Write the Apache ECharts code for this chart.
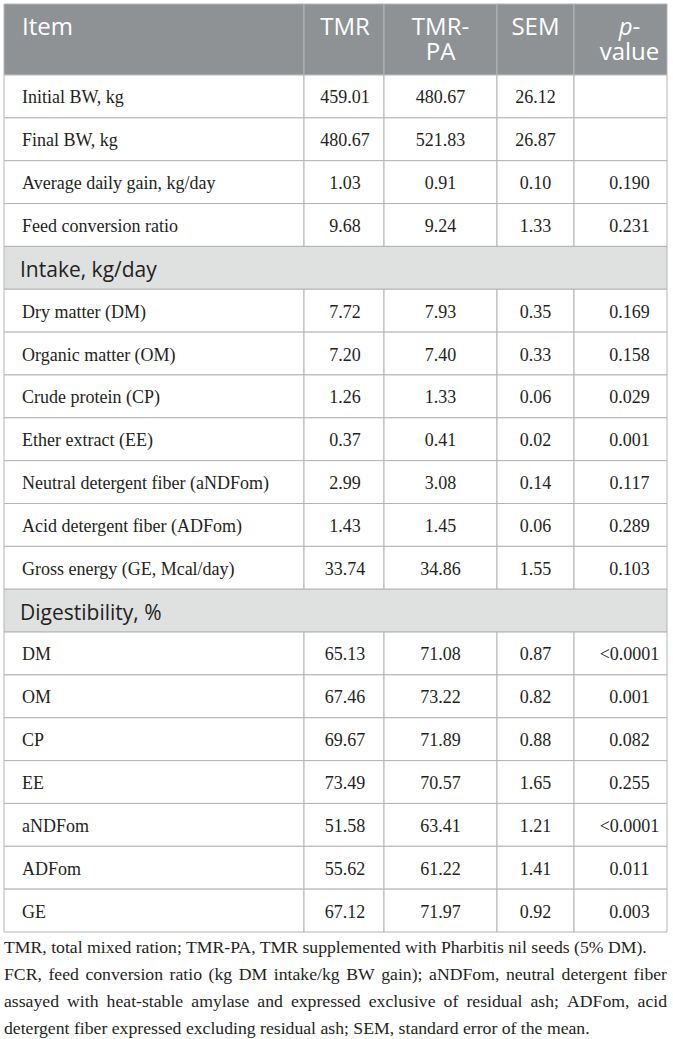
<!DOCTYPE html>
<html>
<head>
<meta charset="utf-8">
<script src="https://cdn.jsdelivr.net/npm/echarts@6/dist/echarts.min.js"></script>
<style>
  html, body { margin: 0; padding: 0; background: #fff; }
  #main { width: 673px; height: 1039px; }
</style>
</head>
<body>
<div id="main"></div>
<script>
var headers = ['Item', 'TMR', 'TMR-\nPA', 'SEM', '{i|p}-\nvalue'];
var sections = ['Intake, kg/day', 'Digestibility, %'];
var items = [
  'Initial BW, kg', 'Final BW, kg', 'Average daily gain, kg/day', 'Feed conversion ratio',
  'Intake, kg/day',
  'Dry matter (DM)', 'Organic matter (OM)', 'Crude protein (CP)', 'Ether extract (EE)',
  'Neutral detergent fiber (aNDFom)', 'Acid detergent fiber (ADFom)', 'Gross energy (GE, Mcal/day)',
  'Digestibility, %',
  'DM', 'OM', 'CP', 'EE', 'aNDFom', 'ADFom', 'GE'
];
var tmr = [459.01, 480.67, 1.03, 9.68, null, 7.72, 7.20, 1.26, 0.37, 2.99, 1.43, 33.74, null, 65.13, 67.46, 69.67, 73.49, 51.58, 55.62, 67.12];
var tmrPa = [480.67, 521.83, 0.91, 9.24, null, 7.93, 7.40, 1.33, 0.41, 3.08, 1.45, 34.86, null, 71.08, 73.22, 71.89, 70.57, 63.41, 61.22, 71.97];
var sem = [26.12, 26.87, 0.10, 1.33, null, 0.35, 0.33, 0.06, 0.02, 0.14, 0.06, 1.55, null, 0.87, 0.82, 0.88, 1.65, 1.21, 1.41, 0.92];
var pValue = ['', '', '0.190', '0.231', null, '0.169', '0.158', '0.029', '0.001', '0.117', '0.289', '0.103', null, '<0.0001', '0.001', '0.082', '0.255', '<0.0001', '0.011', '0.003'];
var footnotes = [
  'TMR, total mixed ration; TMR-PA, TMR supplemented with Pharbitis nil seeds (5% DM).',
  'FCR, feed conversion ratio (kg DM intake/kg BW gain); aNDFom, neutral detergent fiber',
  'assayed with heat-stable amylase and expressed exclusive of residual ash; ADFom, acid',
  'detergent fiber expressed excluding residual ash; SEM, standard error of the mean.'
];

// layout
var tableLeft = 4, tableWidth = 663;
var colEdges = [0, 300, 380, 493, 570, 663];
var colShift = [18, 1, 0, 0, 9];   // text offset inside each column
var headFill = '#8e9294', headLine = '#b3b6b7', rule = '#b4b4b4', sectionFill = '#dfe0e0', ink = '#231f20';
var serif = '"Liberation Serif", "DejaVu Serif", serif';
var sans = '"Open Sans", "Noto Sans", sans-serif';

var chart = echarts.init(document.getElementById('main'), null, { renderer: 'svg' });

function cellText(col, i) {
  var v = [null, tmr, tmrPa, sem, pValue][col][i];
  if (v === null || v === undefined) return '';
  return typeof v === 'number' ? v.toFixed(2) : v;
}

function textX(k, x0, x1) {
  return k === 0 ? x0 + colShift[0] : (x0 + x1) / 2 + colShift[k];
}

function renderHeader(params, api) {
  var h = api.size([0, 1])[1];
  var top = api.coord([0, 0])[1] - h / 2;
  var children = [];
  for (var k = 0; k < headers.length; k++) {
    var x0 = api.coord([colEdges[k], 0])[0];
    var x1 = api.coord([colEdges[k + 1], 0])[0];
    children.push({
      type: 'rect',
      shape: { x: x0, y: top, width: x1 - x0, height: h },
      style: { fill: headFill, stroke: headLine, lineWidth: 1 }
    });
    children.push({
      type: 'text',
      style: {
        text: headers[k],
        x: textX(k, x0, x1),
        y: top + 9,
        align: k === 0 ? 'left' : 'center',
        verticalAlign: 'top',
        fontFamily: sans,
        fontSize: 24,
        lineHeight: 25,
        fill: '#ffffff',
        rich: {
          i: { fontStyle: 'italic', fontFamily: sans, fontSize: 24, lineHeight: 25, fill: '#ffffff' }
        }
      }
    });
  }
  return { type: 'group', children: children };
}

function renderBody(params, api) {
  var i = api.value(1);
  var h = api.size([0, 1])[1];
  var cy = api.coord([0, i])[1];
  var top = cy - h / 2;
  var children = [];
  if (sections.indexOf(items[i]) >= 0) {
    var l = api.coord([colEdges[0], i])[0];
    var r = api.coord([colEdges[colEdges.length - 1], i])[0];
    children.push({
      type: 'rect',
      shape: { x: l, y: top, width: r - l, height: h },
      style: { fill: sectionFill, stroke: rule, lineWidth: 1 }
    });
    children.push({
      type: 'text',
      style: {
        text: items[i], x: l + 16, y: cy + 1, align: 'left', verticalAlign: 'middle',
        fontFamily: sans, fontSize: 21, fill: ink
      }
    });
    return { type: 'group', children: children };
  }
  for (var k = 0; k < colEdges.length - 1; k++) {
    var x0 = api.coord([colEdges[k], i])[0];
    var x1 = api.coord([colEdges[k + 1], i])[0];
    children.push({
      type: 'rect',
      shape: { x: x0, y: top, width: x1 - x0, height: h },
      style: { fill: '#ffffff', stroke: rule, lineWidth: 1 }
    });
    children.push({
      type: 'text',
      style: {
        text: k === 0 ? items[i] : cellText(k, i),
        x: textX(k, x0, x1),
        y: cy + 1,
        align: k === 0 ? 'left' : 'center',
        verticalAlign: 'middle',
        fontFamily: serif,
        fontSize: 18,
        fill: ink
      }
    });
  }
  return { type: 'group', children: children };
}

// footnote, justified like the source
var measure = document.createElement('canvas').getContext('2d');
var noteFont = '17.7px "Liberation Serif"';
measure.font = noteFont;
var noteGraphics = [];
footnotes.forEach(function (line, n) {
  var y = 947 + n * 27;
  var justify = n === 1 || n === 2;
  if (!justify) {
    noteGraphics.push({ type: 'text', x: tableLeft, y: y, style: { text: line, font: noteFont, fill: ink, verticalAlign: 'middle' } });
    return;
  }
  var words = line.split(' ');
  var widths = words.map(function (w) { return measure.measureText(w).width; });
  var total = widths.reduce(function (a, b) { return a + b; }, 0);
  var gap = (tableWidth - total) / (words.length - 1);
  var x = tableLeft;
  words.forEach(function (w, j) {
    noteGraphics.push({ type: 'text', x: x, y: y, style: { text: w, font: noteFont, fill: ink, verticalAlign: 'middle' } });
    x += widths[j] + gap;
  });
});

chart.setOption({
  animation: false,
  grid: [
    { left: tableLeft, width: tableWidth, top: 4, height: 71 },
    { left: tableLeft, width: tableWidth, top: 75, height: 857 }
  ],
  xAxis: [
    { gridIndex: 0, type: 'value', min: 0, max: tableWidth, show: false },
    { gridIndex: 1, type: 'value', min: 0, max: tableWidth, show: false }
  ],
  yAxis: [
    { gridIndex: 0, type: 'category', data: ['head'], show: false },
    { gridIndex: 1, type: 'category', data: items.map(function (d, i) { return i; }), inverse: true, show: false }
  ],
  graphic: noteGraphics,
  series: [
    {
      type: 'custom', xAxisIndex: 0, yAxisIndex: 0,
      renderItem: renderHeader,
      data: [[0, 0]],
      encode: { x: 0, y: 1 }
    },
    {
      type: 'custom', xAxisIndex: 1, yAxisIndex: 1,
      renderItem: renderBody,
      data: items.map(function (d, i) { return [0, i]; }),
      encode: { x: 0, y: 1 }
    }
  ]
});
window.addEventListener('resize', function () { chart.resize(); });
</script>
</body>
</html>
